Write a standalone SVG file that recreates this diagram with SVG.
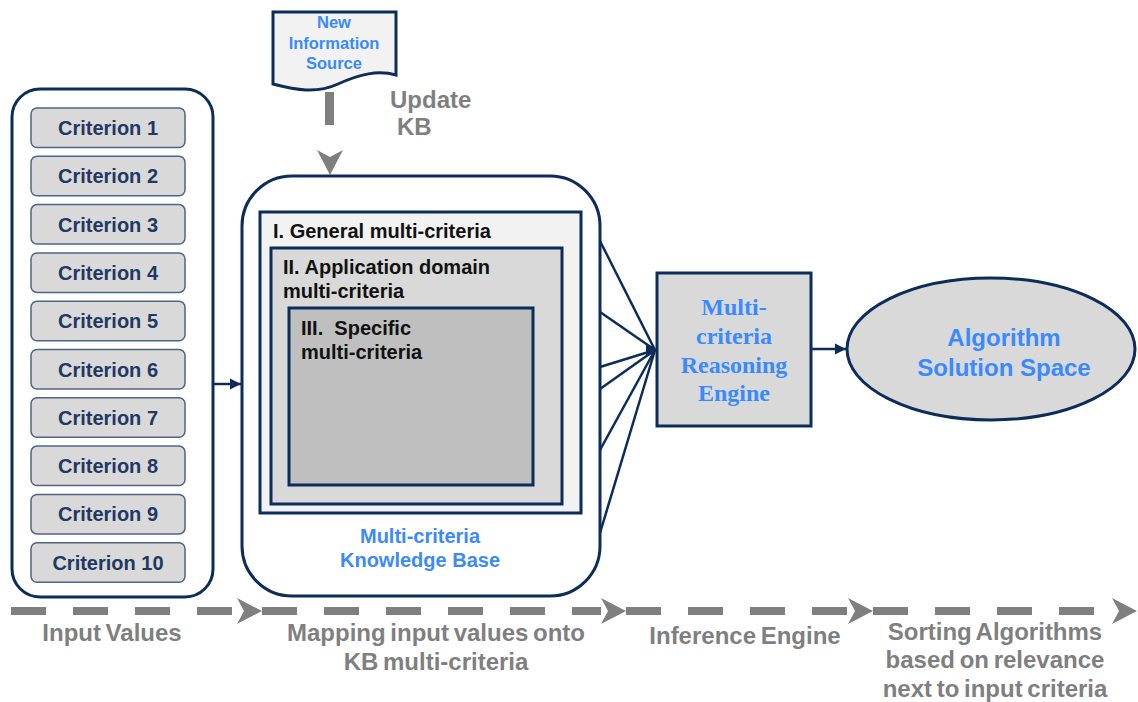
<svg xmlns="http://www.w3.org/2000/svg" width="1138" height="702" viewBox="0 0 1138 702">
<defs>
<style>
.navy{fill:none;stroke:#0c2c5a;stroke-width:3}
.crit rect{fill:#d9d9d9;stroke:#4f6585;stroke-width:1.5}
.crit text{font-family:"Liberation Sans",Arial,sans-serif;font-weight:bold;font-size:20px;fill:#1f3864;text-anchor:middle}
.blk{font-family:"Liberation Sans",Arial,sans-serif;font-weight:bold;font-size:20px;fill:#111}
.blue{font-family:"Liberation Sans",Arial,sans-serif;font-weight:bold;fill:#3a8afc;text-anchor:middle}
.gray{font-family:"Liberation Sans",Arial,sans-serif;font-weight:bold;font-size:24px;fill:#7f7f7f;text-anchor:middle;word-spacing:-2px}
.dash{stroke:#7f7f7f;stroke-width:8;stroke-dasharray:35 27;fill:none}
.chev{fill:#7f7f7f}
.conn{stroke:#0c2c5a;stroke-width:2.5;fill:none}
</style>
<marker id="ah" viewBox="0 0 10 10" refX="10" refY="5" markerWidth="4.5" markerHeight="4.5" orient="auto" markerUnits="strokeWidth">
<path d="M0,0 L10,5 L0,10 Z" fill="#0c2c5a"/>
</marker>
</defs>
<rect width="1138" height="702" fill="#ffffff"/>

<g id="input-panel">
<rect x="12" y="89" width="201" height="508" rx="28" class="navy"/>
</g>
<g id="criteria" class="crit">
<g id="criterion-1"><rect x="31" y="108" width="154" height="39.5" rx="6"/><text x="108" y="135">Criterion 1</text></g>
<g id="criterion-2"><rect x="31" y="156.3" width="154" height="39.5" rx="6"/><text x="108" y="183.3">Criterion 2</text></g>
<g id="criterion-3"><rect x="31" y="204.6" width="154" height="39.5" rx="6"/><text x="108" y="231.6">Criterion 3</text></g>
<g id="criterion-4"><rect x="31" y="252.9" width="154" height="39.5" rx="6"/><text x="108" y="279.9">Criterion 4</text></g>
<g id="criterion-5"><rect x="31" y="301.2" width="154" height="39.5" rx="6"/><text x="108" y="328.2">Criterion 5</text></g>
<g id="criterion-6"><rect x="31" y="349.5" width="154" height="39.5" rx="6"/><text x="108" y="376.5">Criterion 6</text></g>
<g id="criterion-7"><rect x="31" y="397.8" width="154" height="39.5" rx="6"/><text x="108" y="424.8">Criterion 7</text></g>
<g id="criterion-8"><rect x="31" y="446.1" width="154" height="39.5" rx="6"/><text x="108" y="473.1">Criterion 8</text></g>
<g id="criterion-9"><rect x="31" y="494.4" width="154" height="39.5" rx="6"/><text x="108" y="521.4">Criterion 9</text></g>
<g id="criterion-10"><rect x="31" y="542.7" width="154" height="39.5" rx="6"/><text x="108" y="569.7">Criterion 10</text></g>
</g>

<g id="new-info-source">
<path d="M273,12 H396 V75 C378,70 360,74 338,84 C316,94 296,90 273,84 Z" fill="#f2f2f2" stroke="#0c2c5a" stroke-width="3"/>
<text class="blue" font-size="16.5" x="334" y="28">New</text>
<text class="blue" font-size="16.5" x="334" y="49">Information</text>
<text class="blue" font-size="16.5" x="334" y="69">Source</text>
</g>

<g id="update-kb">
<rect x="325" y="92" width="9" height="33" fill="#7f7f7f"/>
<polygon points="317,150 330,157 343,150 330,175" class="chev"/>
<text class="gray" style="text-anchor:start" x="390" y="108">Update</text>
<text class="gray" style="text-anchor:start" x="397" y="135">KB</text>
</g>

<g id="knowledge-base">
<rect x="242" y="176" width="358" height="420" rx="50" class="navy"/>
<rect x="260" y="212" width="321" height="301" fill="#f2f2f2" stroke="#0c2c5a" stroke-width="3"/>
<text class="blk" x="273" y="238">I. General multi-criteria</text>
<rect x="271" y="248" width="291" height="256" fill="#d9d9d9" stroke="#0c2c5a" stroke-width="3"/>
<text class="blk" x="283" y="274">II. Application domain</text>
<text class="blk" x="283" y="298">multi-criteria</text>
<rect x="289" y="308" width="244" height="177" fill="#bfbfbf" stroke="#0c2c5a" stroke-width="3"/>
<text class="blk" x="301" y="335">III.&#160; Specific</text>
<text class="blk" x="301" y="359">multi-criteria</text>
<text class="blue" font-size="20" x="420" y="543">Multi-criteria</text>
<text class="blue" font-size="20" x="420" y="567">Knowledge Base</text>
</g>

<g id="reasoning-engine">
<rect x="657" y="273" width="154" height="153" fill="#d9d9d9" stroke="#0c2c5a" stroke-width="3"/>
<g font-family="'Liberation Serif','Times New Roman',serif" font-weight="bold" font-size="24" fill="#3a8afc" text-anchor="middle">
<text x="734" y="315">Multi-</text>
<text x="734" y="344">criteria</text>
<text x="734" y="373">Reasoning</text>
<text x="734" y="401">Engine</text>
</g>
</g>

<g id="solution-space">
<ellipse cx="991" cy="349" rx="144" ry="71" fill="#d9d9d9" stroke="#0c2c5a" stroke-width="3"/>
<text class="blue" font-size="24" x="1004" y="346">Algorithm</text>
<text class="blue" font-size="24" x="1004" y="376">Solution Space</text>
</g>

<g id="connectors">
<line x1="214" y1="384" x2="241" y2="384" class="conn" marker-end="url(#ah)"/>
<line x1="600" y1="241" x2="655" y2="350" class="conn"/>
<line x1="600" y1="312" x2="655" y2="350" class="conn"/>
<line x1="600" y1="367" x2="655" y2="350" class="conn"/>
<line x1="600" y1="389" x2="655" y2="350" class="conn"/>
<line x1="600" y1="450" x2="655" y2="350" class="conn"/>
<line x1="600" y1="533" x2="655" y2="350" class="conn"/>
<path d="M646,343 L657,350 L646,357 Z" fill="#0c2c5a"/>
<line x1="811" y1="349" x2="846" y2="349" class="conn" marker-end="url(#ah)"/>
</g>

<g id="process-flow">
<line x1="11" y1="611" x2="237" y2="611" class="dash"/>
<polygon points="237,598 262,611 237,624 244,611" class="chev"/>
<line x1="262" y1="611" x2="601" y2="611" class="dash"/>
<polygon points="601,598 626,611 601,624 608,611" class="chev"/>
<line x1="626" y1="611" x2="848" y2="611" class="dash"/>
<polygon points="848,598 873,611 848,624 855,611" class="chev"/>
<line x1="873" y1="611" x2="1112" y2="611" class="dash"/>
<polygon points="1112,598 1137,611 1112,624 1119,611" class="chev"/>
<text class="gray" x="112" y="641">Input Values</text>
<text class="gray" x="436" y="641">Mapping input values onto</text>
<text class="gray" x="436" y="670">KB multi-criteria</text>
<text class="gray" x="745" y="644">Inference Engine</text>
<text class="gray" x="995" y="640">Sorting Algorithms</text>
<text class="gray" x="995" y="668">based on relevance</text>
<text class="gray" x="995" y="697">next to input criteria</text>
</g>
</svg>
